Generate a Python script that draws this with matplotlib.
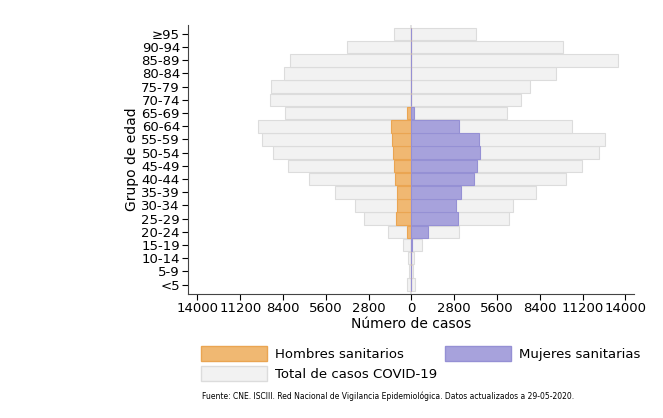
import numpy as np
import matplotlib
matplotlib.use('Agg')
import matplotlib.pyplot as plt
from matplotlib.patches import Patch

grupos = ['<5', '5-9', '10-14', '15-19', '20-24', '25-29', '30-34', '35-39', '40-44',
          '45-49', '50-54', '55-59', '60-64', '65-69', '70-74', '75-79', '80-84',
          '85-89', '90-94', '≥95']
total_hombres = [280, 130, 220, 550, 1530, 3100, 3680, 5010, 6670, 8090, 9070, 9770,
                 10030, 8280, 9240, 9180, 8330, 7940, 4210, 1130]
total_mujeres = [240, 110, 170, 700, 3120, 6370, 6650, 8130, 10140, 11160, 12270, 12670,
                 10510, 6280, 7170, 7760, 9460, 13520, 9920, 4230]
hombres_sanit = [0, 0, 0, 20, 280, 980, 940, 960, 1070, 1130, 1220, 1290,
                 1310, 280, 0, 0, 0, 0, 0, 0]
mujeres_sanit = [0, 0, 0, 65, 1110, 3070, 2900, 3270, 4120, 4290, 4510, 4450,
                 3120, 200, 0, 0, 0, 0, 0, 0]
ticks = [-14000, -11200, -8400, -5600, -2800, 0, 2800, 5600, 8400, 11200, 14000]

fig = plt.figure(figsize=(6.63, 4.18), dpi=100)
ax = fig.add_axes([0.284, 0.297, 0.673, 0.644])
y = np.arange(len(grupos))
h = 0.95
gris = '#f2f2f2'
borde = '#dcdcdc'
ax.barh(y, [-v for v in total_hombres], h, color=gris, edgecolor=borde, linewidth=0.8)
ax.barh(y, total_mujeres, h, color=gris, edgecolor=borde, linewidth=0.8)
ax.barh(y, [-v for v in hombres_sanit], h, color='#f0b872', edgecolor='#eaa552', linewidth=0.8)
ax.barh(y, mujeres_sanit, h, color='#a7a2dc', edgecolor='#9590d4', linewidth=0.8)
ax.axvline(0, color='#dddddd', lw=1.2, zorder=0.5)

ax.set_xlim(-14600, 14600)
ax.set_ylim(-0.7, len(grupos) - 0.3)
ax.set_yticks(y)
ax.set_yticklabels(grupos, fontsize=9.5)
ax.set_xticks(ticks)
ax.set_xticklabels([str(abs(t)) for t in ticks], fontsize=9.5)
ax.set_xlabel('Número de casos', fontsize=10, labelpad=1)
ax.set_ylabel('Grupo de edad', fontsize=10, labelpad=2)
ax.tick_params(axis='y', length=4, pad=2)
ax.tick_params(axis='x', length=4, pad=2)
for s in ['top', 'right']:
    ax.spines[s].set_visible(False)
ax.spines['left'].set_color('#444444')
ax.spines['bottom'].set_color('#444444')

handles = [Patch(facecolor='#f0b872', edgecolor='#eaa552', label='Hombres sanitarios'),
           Patch(facecolor=gris, edgecolor=borde, label='Total de casos COVID-19'),
           Patch(facecolor='#a7a2dc', edgecolor='#9590d4', label='Mujeres sanitarias')]
fig.legend(handles=handles, loc='upper left', bbox_to_anchor=(0.285, 0.2), ncol=2,
           frameon=False, fontsize=9.5, handlelength=5.0, handleheight=1.3,
           columnspacing=0.6, labelspacing=0.4, handletextpad=0.6)
fig.text(0.585, 0.045, 'Fuente: CNE. ISCIII. Red Nacional de Vigilancia Epidemiológica. Datos actualizados a 29-05-2020.',
         fontsize=5.5, ha='center')
fig.savefig('out.png', dpi=100)
